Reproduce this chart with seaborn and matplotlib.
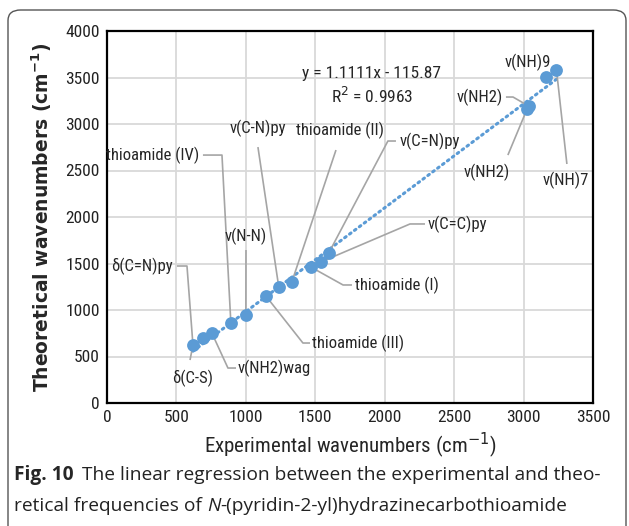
import matplotlib
matplotlib.use("Agg")
import matplotlib.pyplot as plt
import seaborn as sns
import numpy as np
import pandas as pd
from matplotlib.patches import FancyBboxPatch
from matplotlib import font_manager as fm

# ---------------- data ----------------
experimental = [619, 691, 755, 892, 1000, 1144, 1237, 1331, 1468, 1540, 1597, 3025, 3040, 3158, 3237]
theoretical = [624, 699, 753, 860, 946, 1151, 1247, 1301, 1462, 1516, 1613, 3160, 3190, 3505, 3581]
label_texts = ["δ(C=N)py", "δ(C-S)", "v(NH2)wag", "thioamide (IV)", "v(N-N)", "thioamide (III)",
               "v(C-N)py", "thioamide (II)", "thioamide (I)", "v(C=C)py", "v(C=N)py",
               "v(NH2)", "v(NH2)", "v(NH)9", "v(NH)7"]
label_points = [0, 0, 2, 3, 4, 5, 6, 7, 8, 9, 10, 12, 11, 13, 14]
x_ticks = [0, 500, 1000, 1500, 2000, 2500, 3000, 3500]
y_ticks = [0, 500, 1000, 1500, 2000, 2500, 3000, 3500, 4000]
equation_text = "y = 1.1111x - 115.87"
r2_text = "R$^2$ = 0.9963"

df = pd.DataFrame({"exp": experimental, "theo": theoretical})

# ---------------- layout (text anchor, ha, va, leader start, elbow) ----------------
label_layout = [
    ((475, 1473), "right", "center", (504, 1473), (576, 1473)),
    ((619, 269), "center", "center", (598, 462), None),
    ((943, 376), "left", "center", (929, 376), (871, 376)),
    ((662, 2666), "right", "center", (691, 2666), (828, 2666)),
    ((1001, 1795), "center", "center", (1001, 1645), None),
    ((1476, 645), "left", "center", (1462, 645), (1411, 645)),
    ((1087, 2956), "center", "center", (1087, 2752), None),
    ((1678, 2935), "center", "center", (1649, 2720), None),
    ((1786, 1269), "left", "center", (1764, 1269), (1700, 1269)),
    ((2312, 1925), "left", "center", (2290, 1925), (2182, 1925)),
    ((2110, 2817), "left", "center", (2081, 2817), (2023, 2817)),
    ((2852, 3290), "right", "center", (2873, 3290), (2924, 3290)),
    ((2737, 2484), "center", "center", (2887, 2666), None),
    ((3030, 3667), "center", "center", None, None),
    ((3305, 2398), "center", "center", (3312, 2570), None),
]

# find a narrow font if one is installed
names = sorted({f.name for f in fm.fontManager.ttflist})
narrow_name = None
for cand in ["Liberation Sans Narrow", "Roboto Condensed", "Open Sans Condensed",
             "DejaVu Sans Condensed", "Noto Sans Condensed"]:
    if cand in names:
        narrow_name = cand
        break
if narrow_name is None:
    for n in names:
        if "Narrow" in n or "Condensed" in n:
            narrow_name = n
            break
if narrow_name is None:
    narrow_name = "Roboto"
narrow = [narrow_name, "DejaVu Sans"]

sns.set_style("white")
plt.rcParams["font.family"] = narrow

fig = plt.figure(figsize=(6.29, 5.26), dpi=100)
ax = fig.add_axes([107 / 629, 1 - 403 / 526, 486 / 629, 372 / 526])

blue = "#5b9bd5"
gray = "#a5a5a5"

sns.regplot(data=df, x="exp", y="theo", ax=ax, scatter=False, ci=None,
            line_kws=dict(color=blue, lw=2.2, ls=(0, (0.6, 1.4)), dash_capstyle="round", zorder=2))
sns.scatterplot(data=df, x="exp", y="theo", ax=ax, color=blue, s=85, edgecolor=blue,
                linewidth=0, zorder=4)

ax.set_xlim(0, 3500)
ax.set_ylim(0, 4000)
ax.set_xticks(x_ticks)
ax.set_yticks(y_ticks)
ax.set_xticklabels([str(t) for t in x_ticks])
ax.set_yticklabels([str(t) for t in y_ticks])
ax.tick_params(axis="both", labelsize=12.5, length=0, pad=5, colors="#222222")
ax.grid(True, color="#d9d9d9", lw=1.3)
ax.set_axisbelow(True)
for sp in ax.spines.values():
    sp.set_visible(True)
    sp.set_color("black")
    sp.set_linewidth(1.6)

ax.set_xlabel("Experimental wavenumbers (cm$^{-1}$)", fontsize=15, labelpad=4)
ax.set_ylabel("Theoretical wavenumbers (cm$^{\\mathbf{-1}}$)", fontsize=13.5, fontweight="bold",
              family=["DejaVu Sans"], labelpad=8)

ax.text(1908, 3548, equation_text, ha="center", va="center", fontsize=12.5)
ax.text(1908, 3301, r2_text, ha="center", va="center", fontsize=12.5)

for txt, pi, (pos, ha, va, start, elbow) in zip(label_texts, label_points, label_layout):
    ax.text(pos[0], pos[1], txt, ha=ha, va=va, fontsize=12, zorder=5)
    if start is not None:
        xs = [start[0]] + ([elbow[0]] if elbow else []) + [experimental[pi]]
        ys = [start[1]] + ([elbow[1]] if elbow else []) + [theoretical[pi]]
        ax.plot(xs, ys, color=gray, lw=1.2, zorder=3, solid_capstyle="butt")

# frame
frame = FancyBboxPatch((8 / 629, -0.05), (626 - 8) / 629, (0.05 + 1 - 10 / 526),
                       boxstyle="round,pad=0,rounding_size=0.02", transform=fig.transFigure,
                       fill=False, edgecolor="#555555", lw=1.0)
fig.patches.append(frame)

# caption
cap = ["Open Sans", "DejaVu Sans"]
fs = 13.8
fig.canvas.draw()
renderer = fig.canvas.get_renderer()
y1 = 1 - 475 / 526
y2 = 1 - 506 / 526
t1 = fig.text(14 / 629, y1, "Fig. 10", fontsize=fs, fontweight="bold", family=cap, va="center")
bb = t1.get_window_extent(renderer)
fig.text((bb.x1 + 8) / 629, y1, "The linear regression between the experimental and theo-",
         fontsize=fs, family=cap, va="center", color="#222222")
t2 = fig.text(14 / 629, y2, "retical frequencies of ", fontsize=fs, family=cap, va="center",
              color="#222222")
bb = t2.get_window_extent(renderer)
t3 = fig.text(bb.x1 / 629, y2, "N", fontsize=fs, family=cap, style="italic", va="center",
              color="#222222")
bb = t3.get_window_extent(renderer)
fig.text(bb.x1 / 629, y2, "-(pyridin-2-yl)hydrazinecarbothioamide", fontsize=fs, family=cap,
         va="center", color="#222222")

fig.savefig("out.png", dpi=100)
